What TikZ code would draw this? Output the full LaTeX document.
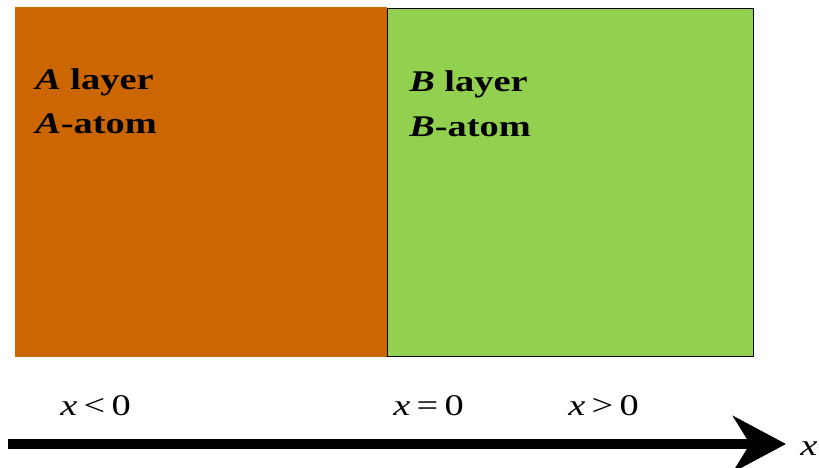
\documentclass[tikz,border=0pt]{standalone}
\usepackage{fontspec}
\setmainfont{Liberation Serif}
\usepackage{xcolor}
\usepackage{tikz}
\usetikzlibrary{arrows.meta,positioning}
\definecolor{layerorange}{HTML}{CC6600}
\definecolor{layergreen}{HTML}{92D050}
\tikzset{
    layerbox/.style = {rectangle, anchor=north west, inner sep=0pt, minimum width=#1},
    layertext/.style = {anchor=base west, inner sep=0pt, xscale=1.28, font=\fontsize{30}{44}\selectfont\bfseries},
    regiontext/.style = {anchor=base west, inner sep=0pt, xscale=1.28, font=\fontsize{30}{36}\selectfont},
    axisline/.style = {line width=10.5pt, -{Stealth[length=53pt, width=56pt, inset=17pt]}}
}
\begin{document}
\begin{tikzpicture}[x=1pt, y=-1pt]
    \useasboundingbox (0,0) rectangle (819,468);

    % Layers
    \node [layerbox=372pt, minimum height=350pt, fill=layerorange] (layerA) at (15,7) {};
    \node [layerbox=366pt, minimum height=348pt, fill=layergreen, draw=black, line width=0.8pt] (layerB) at (387,8) {};

    % Layer labels
    \node [layertext] (Alayer) at (35,90) {\textit{A} layer};
    \node [layertext] (Aatom) at ([yshift=-44pt]Alayer.base west) {\textit{A}-atom};
    \node [layertext] (Blayer) at (409,92) {\textit{B} layer};
    \node [layertext] (Batom) at ([yshift=-44pt]Blayer.base west) {\textit{B}-atom};

    % Axis
    \coordinate (xstart) at (8,444);
    \coordinate (xend) at (786,444);
    \draw [axisline] (xstart) -- (xend);
    \node [regiontext] (xlabel) at (800,455) {\textit{x}};

    % Regions
    \node [regiontext] (xneg) at (60,415) {\textit{x}\,<\,0};
    \node [regiontext] (xzero) at (393,415) {\textit{x}\,=\,0};
    \node [regiontext] (xpos) at (568,415) {\textit{x}\,>\,0};
\end{tikzpicture}
\end{document}
